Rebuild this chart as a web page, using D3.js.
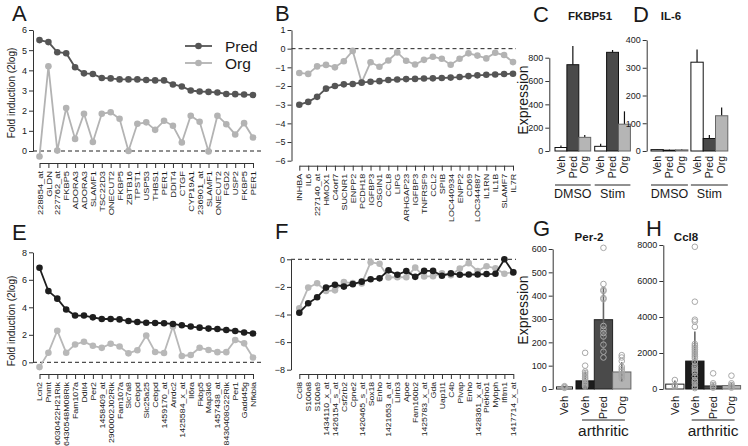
<!DOCTYPE html>
<html><head><meta charset="utf-8">
<script src="https://cdn.jsdelivr.net/npm/d3@7"></script>
<style>body{margin:0;background:#fff} text{font-family:"Liberation Sans",Arial,sans-serif;fill:#1a1a1a}</style>
</head><body><svg id="c" width="748" height="446"></svg>
<script>
// ---------- DATA ----------
const labelsA = ["228854_at","GLDN","227762_at","FKBP5","ADORA3","ADORA3","SLAMF1","TSC22D3","ONECUT2","FKBP5","ZBTB16","TPST1","USP53","THBS1","PER1","DDIT4","CTGF","CYP19A1","236901_at","SLAMF1","ONECUT2","FGD2","USP2","FKBP5","PER1"];
const predA = [5.5,5.4,4.9,4.85,4.15,3.85,3.82,3.62,3.6,3.55,3.55,3.55,3.52,3.5,3.5,3.3,3.2,3.0,2.95,2.93,2.9,2.83,2.82,2.8,2.78];
const orgA  = [-0.27,4.2,0.02,2.13,0.6,1.85,0.45,1.85,1.92,1.6,0.0,1.35,1.42,1.05,1.5,1.25,0.42,1.75,1.45,-0.02,1.75,1.33,0.82,1.38,0.67];

const labelsB = ["INHBA","IL6","227140_at","HMOX1","C4orf7","SUCNR1","ENPP2","PCDH18","IGFBP3","OSGIN1","CCL8","LIPG","ARHGAP23","IGFBP3","TNFRSF9","CCL2","SPIB","LOC440934","ENPP2","CD69","LOC344887","IL1RN","IL1B","SLAMF7","IL7R"];
const predB = [-3.0,-2.85,-2.58,-2.14,-2.0,-1.91,-1.89,-1.82,-1.77,-1.74,-1.68,-1.65,-1.63,-1.62,-1.6,-1.59,-1.57,-1.55,-1.52,-1.47,-1.43,-1.4,-1.38,-1.36,-1.34];
const orgB  = [-1.3,-1.35,-0.95,-0.87,-1.0,-0.67,-0.12,-1.8,-0.73,-0.97,-0.63,-0.2,-0.65,-0.85,-0.6,-0.43,-0.54,-0.86,-0.54,-0.25,-0.37,-0.52,-0.22,-0.34,-0.72];

const labelsE = ["Lcn2","Pnmt","6030422H21Rik","6430548M08Rik","Fam107a","Ddit4","Per2","1458409_at","2900002J02Rik","Fam107a","Slc7a8","Cebpd","Slc25a25","Cebpd","1459170_at","Arrdc2","1425584_x_at","Il6ra","Fkbp5","Map3k6","1457438_at","8430408G22Rik","Per1","Gadd45g","Nfkbia"];
const predE = [6.88,5.18,4.63,3.84,3.4,3.4,3.27,3.15,3.15,3.12,3.0,2.93,2.88,2.86,2.84,2.79,2.69,2.6,2.52,2.45,2.42,2.35,2.28,2.17,2.1];
const orgE  = [-0.35,0.7,2.3,0.7,1.3,1.5,1.2,1.05,1.35,1.15,0.65,0.88,1.95,0.75,0.68,2.6,0.46,0.53,1.06,0.9,0.74,0.74,1.62,1.38,0.35];

const labelsF = ["Ccl8","S100a8","S100a9","1434110_x_at","1426154_s_at","Csf2rb2","Cpne2","1420465_s_at","Sox18","Enho","1421653_a_at","Lilrb3","Apoe","Fam160b2","1425783_x_at","Gda","Uap1l1","C4b","Plvap","Enho","1428361_x_at","Plekho1","Mybph","Ifitm1","1417714_x_at"];
const predF = [-3.87,-3.19,-2.75,-2.05,-1.84,-1.98,-1.8,-1.62,-1.45,-1.38,-0.8,-1.12,-0.85,-1.27,-0.84,-0.84,-1.19,-1.02,-1.12,-1.1,-1.1,-1.07,-1.05,0.0,-0.95];
const orgF  = [-3.55,-2.05,-1.74,-2.3,-2.25,-1.65,-1.72,-1.75,-0.22,-0.32,-1.32,-1.3,-1.3,-0.6,-1.25,-1.22,-1.02,-1.15,-0.67,-0.28,-0.85,-0.5,-0.65,-1.05,-0.92];

const barLabels = ["Veh","Pred","Org","Veh","Pred","Org"];
const valC = [30,740,117,40,846,230];
const errC = [48,900,137,62,866,340];
const valD = [5,3,4,320,45,127];
const errD = [7,5,6,366,58,157];

const barLabelsGH = ["Veh","Veh","Pred","Org"];
const valG = [9,35,297,73];
const sdG  = [4,40,140,42];
const ptsG = [[12,8,5],[155,100,75,68,60,52,45,38,30,25,20,15,10],[605,450,425,420,390,385,270,255,240,225,190,160,135],[145,135,120,95,85,75,65,60,55,45]];
const valH = [270,1550,170,190];
const sdH  = [200,1650,150,160];
const ptsH = [[500,220,130],[7900,4850,3850,3750,3450,2500,2400,2300,2200,2100,2000,1900,1800,1700,1500,1300,1200,1100,1000,900,700,500,400,300,150,50],[870,315,220,130,75],[740,315,220,130,75]];

// ---------- DRAW ----------
const svg = d3.select("#c");

function letter(t,x,y){ svg.append("text").attr("x",x).attr("y",y).style("font-size","22px").text(t); }

function linePanel(o){
  const g = svg.append("g");
  const x = d3.scalePoint().domain(d3.range(o.labels.length)).range([o.x0,o.x1]);
  const y = d3.scaleLinear().domain(o.yDomain).range(o.yRange);
  g.append("line").attr("x1",o.axisX).attr("x2",o.dashEnd).attr("y1",y(0)).attr("y2",y(0))
    .attr("stroke","#222").attr("stroke-width",1).attr("stroke-dasharray","4,3");
  const ya = g.append("g").attr("transform",`translate(${o.axisX},0)`)
    .call(d3.axisLeft(y).tickValues(o.yTicks).tickSize(4).tickSizeOuter(0).tickFormat(d3.format("d")));
  ya.selectAll("text").style("font-size","9px").attr("x",-6);
  const xa = g.append("g").attr("transform",`translate(0,${o.xAxisY})`)
    .call(d3.axisBottom(x).tickSize(5).tickSizeOuter(0).tickFormat(i=>o.labels[i]));
  xa.selectAll("text").attr("transform",`rotate(-90) scale(1,${o.sq})`).attr("text-anchor","end")
    .attr("x",-8).attr("y",0).attr("dy","0.35em").style("font-size",o.lfs+"px");
  g.selectAll(".domain,.tick line").attr("stroke","#333");
  [[o.org,o.orgColor],[o.pred,o.predColor]].forEach(([v,c])=>{
    g.append("path").datum(v).attr("d",d3.line().x((d,i)=>x(i)).y(d=>y(d)))
      .attr("fill","none").attr("stroke",c).attr("stroke-width",1.8);
    g.append("g").selectAll("circle").data(v).join("circle")
      .attr("cx",(d,i)=>x(i)).attr("cy",d=>y(d)).attr("r",3.3).attr("fill",c);
  });
  if(o.ylabel){
    svg.append("text").attr("transform",`translate(${o.ylabelX},${o.ylabelY}) rotate(-90)`)
      .attr("text-anchor","middle").style("font-size","10px").text(o.ylabel);
  }
}

linePanel({labels:labelsA,pred:predA,org:orgA,x0:39.5,x1:253,yDomain:[0,6],yRange:[151,30],yTicks:[0,1,2,3,4,5,6],
  axisX:33,dashEnd:262,xAxisY:163,sq:0.8,lfs:9.3,predColor:"#555",orgColor:"#b3b3b3",
  ylabel:"Fold induction (2log)",ylabelX:15,ylabelY:93});
linePanel({labels:labelsB,pred:predB,org:orgB,x0:299.3,x1:513,yDomain:[-6,1],yRange:[160.7,30],yTicks:[-6,-5,-4,-3,-2,-1,0,1],
  axisX:291.5,dashEnd:516,xAxisY:165.7,sq:0.8,lfs:9,predColor:"#555",orgColor:"#b3b3b3"});
linePanel({labels:labelsE,pred:predE,org:orgE,x0:39.5,x1:253,yDomain:[0,8],yRange:[362.3,252.3],yTicks:[0,2,4,6,8],
  axisX:33,dashEnd:262,xAxisY:374,sq:0.8,lfs:8.8,predColor:"#1e1e1e",orgColor:"#b8b8b8",
  ylabel:"Fold induction (2log)",ylabelX:15,ylabelY:321});
linePanel({labels:labelsF,pred:predF,org:orgF,x0:299.3,x1:513.3,yDomain:[-8,0],yRange:[369.7,259.3],yTicks:[-8,-6,-4,-2,0],
  axisX:291,dashEnd:516,xAxisY:374,sq:0.8,lfs:8.6,predColor:"#1e1e1e",orgColor:"#b8b8b8"});

// legend (panel A)
[["Pred","#555",46],["Org","#b3b3b3",63]].forEach(([t,c,yy])=>{
  svg.append("line").attr("x1",185).attr("x2",212).attr("y1",yy).attr("y2",yy).attr("stroke",c).attr("stroke-width",1.8);
  svg.append("circle").attr("cx",198.5).attr("cy",yy).attr("r",3.3).attr("fill",c);
  svg.append("text").attr("x",225).attr("y",yy+5.5).style("font-size","15.5px").text(t);
});

letter("A",12,20.5); letter("B",275,20.5); letter("C",533,22); letter("D",633,22);
letter("E",12,240); letter("F",275,239); letter("G",533,236); letter("H",646,236);

// ---------- bar panels C / D ----------
const fillsCD = ["#fff","#4a4a4a","#b5b5b5","#fff","#4a4a4a","#b5b5b5"];
const strokesCD = ["#111","#111","#666","#111","#111","#666"];
function barPanelCD(o){
  const y = d3.scaleLinear().domain([0,o.yMax]).range([151,o.yTop]);
  const xpos = i => o.x0 + i*o.w + (i>=3?o.gap:0);
  const ya = svg.append("g").attr("transform",`translate(${o.axisX},0)`)
    .call(d3.axisLeft(y).tickValues(o.ticks).tickSize(4).tickSizeOuter(0).tickFormat(d3.format("d")));
  ya.selectAll("text").style("font-size","9px").attr("x",-6);
  ya.selectAll(".domain,.tick line").attr("stroke","#333");
  svg.append("g").selectAll("line").data(o.err).join("line")
    .attr("x1",(d,i)=>xpos(i)+o.w/2).attr("x2",(d,i)=>xpos(i)+o.w/2)
    .attr("y1",(d,i)=>y(o.vals[i])).attr("y2",d=>y(d)).attr("stroke","#111").attr("stroke-width",1.2);
  svg.append("g").selectAll("rect").data(o.vals).join("rect")
    .attr("x",(d,i)=>xpos(i)).attr("width",o.w).attr("y",d=>y(d)).attr("height",d=>y(0)-y(d))
    .attr("fill",(d,i)=>fillsCD[i]).attr("stroke",(d,i)=>strokesCD[i]).attr("stroke-width",1);
  barLabels.forEach((t,i)=>{
    svg.append("text").attr("transform",`translate(${xpos(i)+o.w/2},156) rotate(-90)`)
      .attr("text-anchor","end").attr("dy","0.35em").style("font-size","10.5px").text(t);
  });
  [["DMSO",0],["Stim",3]].forEach(([t,s])=>{
    const a = xpos(s), b = xpos(s+2)+o.w;
    svg.append("line").attr("x1",a).attr("x2",b).attr("y1",185).attr("y2",185).attr("stroke","#222");
    svg.append("text").attr("x",(a+b)/2).attr("y",198).attr("text-anchor","middle").style("font-size","12.5px").text(t);
  });
  svg.append("text").attr("x",o.titleX).attr("y",20).attr("text-anchor","middle")
    .style("font-size","11.5px").style("font-weight","bold").text(o.title);
}
barPanelCD({vals:valC,err:errC,yMax:800,yTop:57.7,ticks:[0,200,400,600,800],axisX:549.3,x0:555,w:11.9,gap:4,title:"FKBP51",titleX:590});
barPanelCD({vals:valD,err:errD,yMax:400,yTop:40,ticks:[0,100,200,300,400],axisX:646.7,x0:651,w:12.3,gap:3,title:"IL-6",titleX:671});

svg.append("text").attr("transform","translate(528,100) rotate(-90)").attr("text-anchor","middle")
  .style("font-size","14px").text("Expression");
svg.append("text").attr("transform","translate(528,310) rotate(-90)").attr("text-anchor","middle")
  .style("font-size","14px").text("Expression");

// ---------- bar panels G / H ----------
const fillsGH = ["#fff","#1c1c1c","#4a4a4a","#b3b3b3"];
const strokesGH = ["#222","#111","#222","#666"];
function barPanelGH(o){
  const y = d3.scaleLinear().domain([0,o.yMax]).range([389,o.yTop]);
  const xl = i => i===0 ? o.x0 : o.x1 + (i-1)*o.w;
  const wd = i => i===0 ? o.w0 : o.w;
  const ya = svg.append("g").attr("transform",`translate(${o.axisX},0)`)
    .call(d3.axisLeft(y).tickValues(o.ticks).tickSize(4).tickSizeOuter(0).tickFormat(d3.format("d")));
  ya.selectAll("text").style("font-size","9px").attr("x",-6);
  ya.selectAll(".domain,.tick line").attr("stroke","#333");
  svg.append("g").selectAll("rect").data(o.vals).join("rect")
    .attr("x",(d,i)=>xl(i)).attr("width",(d,i)=>wd(i)).attr("y",d=>y(d)).attr("height",d=>y(0)-y(d))
    .attr("fill",(d,i)=>fillsGH[i]).attr("stroke",(d,i)=>strokesGH[i]).attr("stroke-width",1);
  svg.append("g").selectAll("line").data(o.vals).join("line")
    .attr("x1",(d,i)=>xl(i)+wd(i)/2).attr("x2",(d,i)=>xl(i)+wd(i)/2)
    .attr("y1",(d,i)=>y(Math.max(0,d-o.sd[i]))).attr("y2",(d,i)=>y(d+o.sd[i]))
    .attr("stroke","#666").attr("stroke-width",1.6);
  o.pts.forEach((arr,i)=>{
    svg.append("g").selectAll("circle").data(arr).join("circle")
      .attr("cx",xl(i)+wd(i)/2).attr("cy",d=>y(d)).attr("r",2.8)
      .attr("fill","none").attr("stroke","#a8a8a8").attr("stroke-width",1);
  });
  barLabelsGH.forEach((t,i)=>{
    svg.append("text").attr("transform",`translate(${xl(i)+wd(i)/2},396) rotate(-90)`)
      .attr("text-anchor","end").attr("dy","0.35em").style("font-size","11px").text(t);
  });
  const a = xl(1)+6, b = xl(3)+o.w-6;
  svg.append("line").attr("x1",a).attr("x2",b).attr("y1",420).attr("y2",420).attr("stroke","#222");
  svg.append("text").attr("x",(xl(1)+xl(3)+o.w)/2).attr("y",436).attr("text-anchor","middle").style("font-size","15.5px").text("arthritic");
  svg.append("text").attr("x",o.titleX).attr("y",241).attr("text-anchor","middle")
    .style("font-size","11.5px").style("font-weight","bold").text(o.title);
}
barPanelGH({vals:valG,sd:sdG,pts:ptsG,yMax:600,yTop:249,ticks:[0,100,200,300,400,500,600],axisX:552.7,x0:556.5,w0:16,x1:576,w:18.3,title:"Per-2",titleX:589});
barPanelGH({vals:valH,sd:sdH,pts:ptsH,yMax:8000,yTop:245,ticks:[0,2000,4000,6000,8000],axisX:663.3,x0:665.7,w0:18.3,x1:685.7,w:18.3,title:"Ccl8",titleX:686});
</script></body></html>
